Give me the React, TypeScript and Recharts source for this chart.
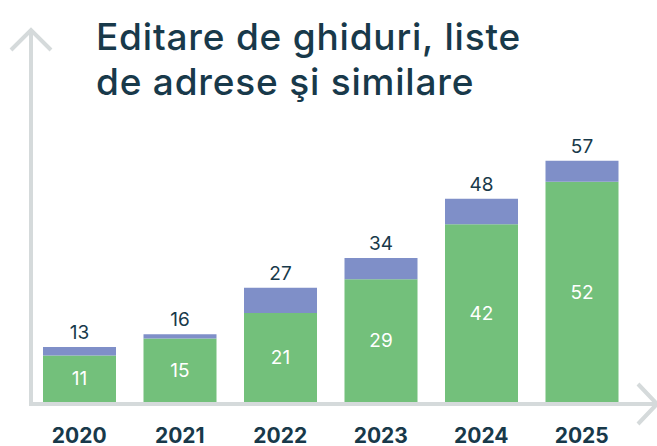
import React from 'react';
import { BarChart, Bar, XAxis, YAxis, LabelList } from 'recharts';

const years = ['2020', '2021', '2022', '2023', '2024', '2025'];
const baseValues = [11, 15, 21, 29, 42, 52];
const totalValues = [13, 16, 27, 34, 48, 57];

const GREEN = '#73c07b';
const BLUE = '#7f8fc8';
const TEXT = '#18394a';
const AXIS = '#d5dadb';
const FONT = 'Inter, "Open Sans", sans-serif';

const data = years.map((year, i) => ({
    year,
    base: baseValues[i],
    extra: totalValues[i] - baseValues[i],
    total: totalValues[i],
}));

const YearTick = (props: any) => {
    const { x, y, payload } = props;
    return (
        <text x={x} y={y + 33} textAnchor="middle" fill={TEXT} fontFamily={FONT} fontSize={21} fontWeight={700}>
            {payload.value}
        </text>
    );
};

export default function App() {
    return (
        <div style={{ position: 'absolute', left: 0, top: 0, width: 657, height: 446, background: '#fff', overflow: 'hidden' }}>
            <div style={{ position: 'absolute', left: 96, top: 14, fontFamily: FONT, fontSize: 37, lineHeight: '45px', letterSpacing: 0.8, color: TEXT, fontWeight: 500, whiteSpace: 'nowrap' }}>
                Editare de ghiduri, liste<br />de adrese şi similare
            </div>
            <BarChart width={657} height={446} data={data} margin={{ top: 148, right: 25, left: 29, bottom: 0 }}>
                <XAxis dataKey="year" axisLine={false} tickLine={false} tick={<YearTick />} height={44} interval={0} />
                <YAxis hide domain={[0, 60]} />
                <Bar dataKey="base" stackId="a" fill={GREEN} barSize={73} isAnimationActive={false}>
                    <LabelList dataKey="base" position="center" fill="#ffffff" fontFamily={FONT} fontSize={19} />
                </Bar>
                <Bar dataKey="extra" stackId="a" fill={BLUE} barSize={73} isAnimationActive={false}>
                    <LabelList dataKey="total" position="top" offset={8} fill={TEXT} fontFamily={FONT} fontSize={19} />
                </Bar>
            </BarChart>
            <svg width={657} height={446} style={{ position: 'absolute', left: 0, top: 0, pointerEvents: 'none' }}>
                <g stroke={AXIS} strokeWidth={4} fill="none">
                    <line x1={31} y1={30} x2={31} y2={404} />
                    <line x1={29} y1={404} x2={655} y2={404} />
                    <polyline points="11,50 31,30 51,50" />
                    <polyline points="638,384 657,404 638,424" />
                </g>
            </svg>
        </div>
    );
}
